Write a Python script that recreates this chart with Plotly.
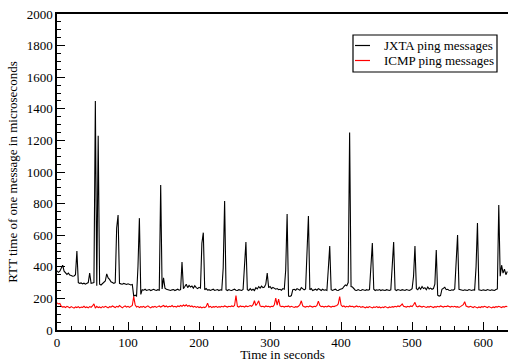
import plotly.graph_objects as go

# sampling time (seconds), one sample every 2 s
time_s = list(range(0, 636, 2))

jxta_rtt = [
    375, 365, 372, 395, 410, 372, 360, 352, 360, 348,
    345, 340, 342, 350, 500, 300, 295, 298, 292, 296,
    290, 294, 300, 360, 295, 298, 300, 1450, 280, 1230,
    290, 285, 295, 300, 310, 355, 330, 320, 305, 300,
    295, 300, 646, 727, 295, 292, 290, 295, 290, 288,
    292, 290, 285, 288, 215, 220, 215, 400, 708, 225,
    255, 252, 258, 250, 254, 256, 250, 252, 258, 253,
    250, 255, 252, 918, 260, 330, 265, 258, 255, 252,
    250, 254, 256, 250, 252, 258, 252, 255, 430, 262,
    275, 290, 268, 282, 272, 278, 265, 280, 268, 262,
    270, 265, 550, 616, 255, 262, 252, 255, 250, 254,
    258, 250, 252, 256, 250, 254, 252, 392, 816, 255,
    250, 256, 252, 250, 254, 258, 252, 250, 255, 252,
    250, 256, 455, 557, 255, 250, 262, 252, 258, 250,
    268, 260, 275, 265, 278, 268, 272, 290, 360, 268,
    275, 262, 270, 265, 258, 262, 255, 258, 252, 262,
    258, 380, 734, 215, 212, 218, 255, 258, 252, 262,
    256, 252, 268, 258, 254, 260, 512, 721, 255, 262,
    250, 254, 258, 252, 262, 256, 250, 258, 252, 254,
    250, 386, 531, 255, 250, 254, 258, 252, 250, 256,
    258, 262, 275, 285, 280, 300, 1250, 275, 272, 262,
    252, 250, 256, 252, 250, 256, 252, 250, 255, 252,
    256, 380, 550, 258, 250, 254, 252, 256, 250, 254,
    252, 250, 255, 252, 250, 254, 394, 557, 255, 250,
    256, 252, 250, 255, 252, 250, 256, 252, 250, 255,
    262, 340, 531, 262, 255, 270, 258, 275, 262, 268,
    255, 272, 260, 265, 258, 262, 290, 506, 220, 215,
    218, 258, 262, 270, 255, 258, 252, 250, 254, 252,
    260, 400, 601, 258, 255, 252, 250, 254, 252, 250,
    256, 252, 250, 254, 252, 398, 677, 255, 252, 250,
    254, 252, 250, 256, 252, 250, 254, 252, 250, 256,
    260, 791, 340, 410, 360, 385, 350, 370,
]

icmp_rtt = [
    172, 165, 168, 150, 145, 148, 142, 150, 145, 140,
    148, 144, 138, 146, 142, 148, 140, 145, 143, 150,
    142, 146, 140, 148, 144, 152, 165, 138, 150, 142,
    146, 140, 148, 143, 150, 145, 140, 148, 145, 152,
    146, 142, 150, 145, 155, 146, 140, 148, 152, 145,
    150, 143, 148, 155, 211, 160, 145, 150, 142, 148,
    145, 150, 142, 148, 153, 145, 140, 148, 145, 150,
    143, 148, 152, 145, 150, 155, 147, 152, 145, 150,
    148, 155, 146, 150, 145, 152, 148, 155, 150, 158,
    152, 160, 150, 155, 148, 152, 145, 150, 143, 148,
    142, 146, 140, 145, 142, 148, 170, 145, 150, 142,
    148, 145, 150, 143, 148, 145, 150, 146, 152, 148,
    145, 150, 147, 152, 148, 155, 218, 150, 145, 152,
    148, 150, 145, 152, 148, 150, 155, 150, 160, 185,
    155, 168, 185, 152, 148, 150, 145, 152, 148, 150,
    145, 150, 148, 160, 202, 158, 195, 152, 148, 150,
    145, 150, 148, 152, 145, 150, 147, 143, 148, 145,
    150, 160, 185, 152, 148, 145, 150, 146, 152, 148,
    145, 150, 148, 155, 183, 155, 148, 150, 145, 150,
    146, 152, 148, 145, 150, 148, 152, 155, 165, 211,
    158, 148, 152, 145, 150, 146, 152, 148, 150, 145,
    148, 152, 146, 150, 143, 148, 145, 140, 146, 142,
    148, 144, 140, 146, 143, 148, 142, 146, 140, 145,
    142, 148, 144, 140, 146, 143, 148, 145, 150, 146,
    152, 148, 155, 165, 150, 148, 145, 150, 146, 152,
    148, 160, 175, 150, 146, 152, 148, 145, 150, 147,
    143, 148, 145, 150, 146, 142, 148, 145, 150, 146,
    152, 148, 145, 150, 147, 152, 148, 145, 150, 146,
    150, 145, 148, 143, 148, 152, 160, 179, 152, 148,
    145, 150, 146, 142, 148, 144, 140, 146, 142, 148,
    145, 150, 146, 142, 148, 144, 140, 146, 142, 148,
    145, 150, 146, 142, 148, 145, 150, 148,
]

series_names = ["JXTA ping messages", "ICMP ping messages"]
series_colors = ["black", "red"]
x_ticks = [0, 100, 200, 300, 400, 500, 600]
y_ticks = [0, 200, 400, 600, 800, 1000, 1200, 1400, 1600, 1800, 2000]

FONT = "Liberation Serif"

fig = go.Figure()
for name, vals, col in zip(series_names, [jxta_rtt, icmp_rtt], series_colors):
    fig.add_trace(go.Scatter(x=time_s, y=vals, mode="lines", name=name,
                             line=dict(color=col, width=1.1), showlegend=False))

axis_common = dict(
    showgrid=False, zeroline=False, showline=True, linecolor="black", linewidth=1.5,
    ticks="inside", tickcolor="black", tickwidth=1.2, ticklen=8,
    tickfont=dict(family=FONT, size=13, color="black"),
)

fig.update_xaxes(
    **axis_common, range=[0, 635], tickvals=x_ticks, mirror=True,
    minor=dict(dtick=20, ticks="inside", ticklen=4, tickcolor="black", tickwidth=1),
    title=dict(text="Time in seconds", font=dict(family=FONT, size=13, color="black"), standoff=5),
)
fig.update_yaxes(
    **axis_common, range=[0, 2000], tickvals=y_ticks,
    minor=dict(dtick=50, ticks="inside", ticklen=4, tickcolor="black", tickwidth=1),
    title=dict(text="RTT time of one message in microseconds",
               font=dict(family=FONT, size=13, color="black"), standoff=6),
)

# legend box drawn in paper coordinates (plot area: 57..508 px wide, 14..330 px tall)
PL, PW, PB, PH = 57, 451, 330, 316
def px(xp):
    return (xp - PL) / PW
def py(yp):
    return (PB - yp) / PH

shapes = [dict(type="rect", xref="paper", yref="paper",
               x0=px(353), x1=px(497), y0=py(72), y1=py(35),
               line=dict(color="black", width=1.2), fillcolor="white", layer="above")]
annotations = []
for i, (name, col) in enumerate(zip(series_names, series_colors)):
    yrow = 45.5 + 15 * i
    shapes.append(dict(type="line", xref="paper", yref="paper",
                       x0=px(355), x1=px(370), y0=py(yrow), y1=py(yrow),
                       line=dict(color=col, width=1.2), layer="above"))
    annotations.append(dict(xref="paper", yref="paper", x=px(382), y=py(yrow),
                            text=name, showarrow=False, xanchor="left", yanchor="middle",
                            font=dict(family=FONT, size=13, color="black")))

fig.update_layout(
    width=508, height=362,
    margin=dict(l=57, r=0, t=14, b=32, autoexpand=False),
    paper_bgcolor="white", plot_bgcolor="white",
    font=dict(family=FONT, size=13, color="black"),
    shapes=shapes, annotations=annotations,
    showlegend=False,
)

fig.write_html("out.html", config={"displayModeBar": False},
               post_script="document.body.style.margin='0';document.body.style.overflow='hidden';")
